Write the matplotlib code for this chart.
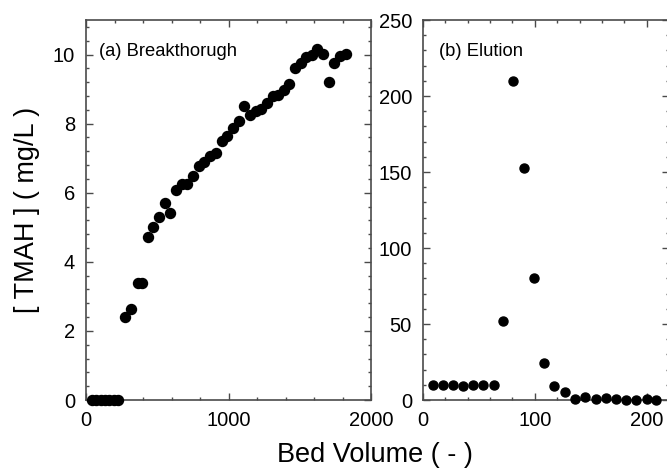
import matplotlib
matplotlib.use("Agg")
import matplotlib.pyplot as plt
from matplotlib.ticker import MultipleLocator

plt.rcParams['font.family'] = ['Liberation Sans', 'DejaVu Sans']

# (a) Breakthrough data
bt_bv = [40, 71, 102, 133, 164, 196, 227, 274, 314, 363, 395, 433, 473, 512,
         554, 589, 632, 671, 711, 753, 792, 830, 870, 910, 952, 988, 1032,
         1071, 1109, 1151, 1191, 1230, 1270, 1310, 1350, 1389, 1427, 1467,
         1506, 1544, 1583, 1623, 1665, 1703, 1743, 1782, 1825]
bt_conc = [0, 0, 0, 0, 0, 0, 0, 2.39, 2.64, 3.40, 3.40, 4.73, 5.02, 5.31,
           5.70, 5.41, 6.07, 6.25, 6.25, 6.47, 6.77, 6.89, 7.05, 7.15, 7.51,
           7.63, 7.87, 8.07, 8.50, 8.24, 8.36, 8.43, 8.60, 8.81, 8.84, 8.97,
           9.16, 9.61, 9.76, 9.93, 10.0, 10.16, 10.03, 9.20, 9.76, 9.97, 10.03]

# (b) Elution data
el_bv = [8.5, 17.5, 26.5, 36, 45, 54, 63.5, 71.7, 80.6, 90.2, 99.4, 108.3,
         117.2, 126.8, 136.3, 145.3, 154.5, 163.4, 172.3, 181.3, 190.8,
         200.3, 208.7]
el_conc = [9.8, 9.8, 9.8, 9.5, 9.6, 9.6, 9.8, 52.2, 210, 152.4, 80, 24.6,
           9.4, 5.0, 0.5, 1.8, 0.5, 1.5, 0.5, 0.3, 0.3, 0.5, 0.3]

W, H = 667, 473
fig = plt.figure(figsize=(W / 100, H / 100), dpi=100)

ax1 = fig.add_axes([86 / W, (H - 400) / H, (371 - 86) / W, 380 / H])
ax2 = fig.add_axes([423 / W, (H - 400) / H, (669 - 423) / W, 380 / H])

spine_col = '#4a4a4a'
for ax in (ax1, ax2):
    for s in ax.spines.values():
        s.set_color(spine_col)
        s.set_linewidth(1.2)
    ax.tick_params(which='both', direction='in', top=True, right=True,
                   color=spine_col, labelsize=14.5, pad=8)
    ax.tick_params(which='major', length=5, width=1.0)
    ax.tick_params(which='minor', length=2.5, width=1.0)

ax1.plot(bt_bv, bt_conc, 'o', color='black', ms=7.2, clip_on=False, zorder=5)
ax1.set_xlim(0, 2000)
ax1.set_ylim(0, 11)
ax1.xaxis.set_major_locator(MultipleLocator(1000))
ax1.xaxis.set_minor_locator(MultipleLocator(200))
ax1.yaxis.set_major_locator(MultipleLocator(2))
ax1.yaxis.set_minor_locator(MultipleLocator(0.4))
ax1.text(0.046, 0.916, '(a) Breakthorugh', transform=ax1.transAxes,
         fontsize=13.2, va='center', ha='left')

ax2.plot(el_bv, el_conc, 'o', color='black', ms=6.5, clip_on=False, zorder=5)
ax2.set_xlim(0, 220)
ax2.set_ylim(0, 250)
ax2.xaxis.set_major_locator(MultipleLocator(100))
ax2.xaxis.set_minor_locator(MultipleLocator(20))
ax2.yaxis.set_major_locator(MultipleLocator(50))
ax2.yaxis.set_minor_locator(MultipleLocator(10))
ax2.text(0.065, 0.917, '(b) Elution', transform=ax2.transAxes,
         fontsize=13.2, va='center', ha='left')

fig.text(375 / W, 1 - 455 / H, 'Bed Volume ( - )', fontsize=19.5,
         ha='center', va='center')
fig.text(27 / W, 1 - 210 / H, '[ TMAH ] ( mg/L )', fontsize=19.5,
         rotation=90, ha='center', va='center')

fig.savefig('out.png', dpi=100)
